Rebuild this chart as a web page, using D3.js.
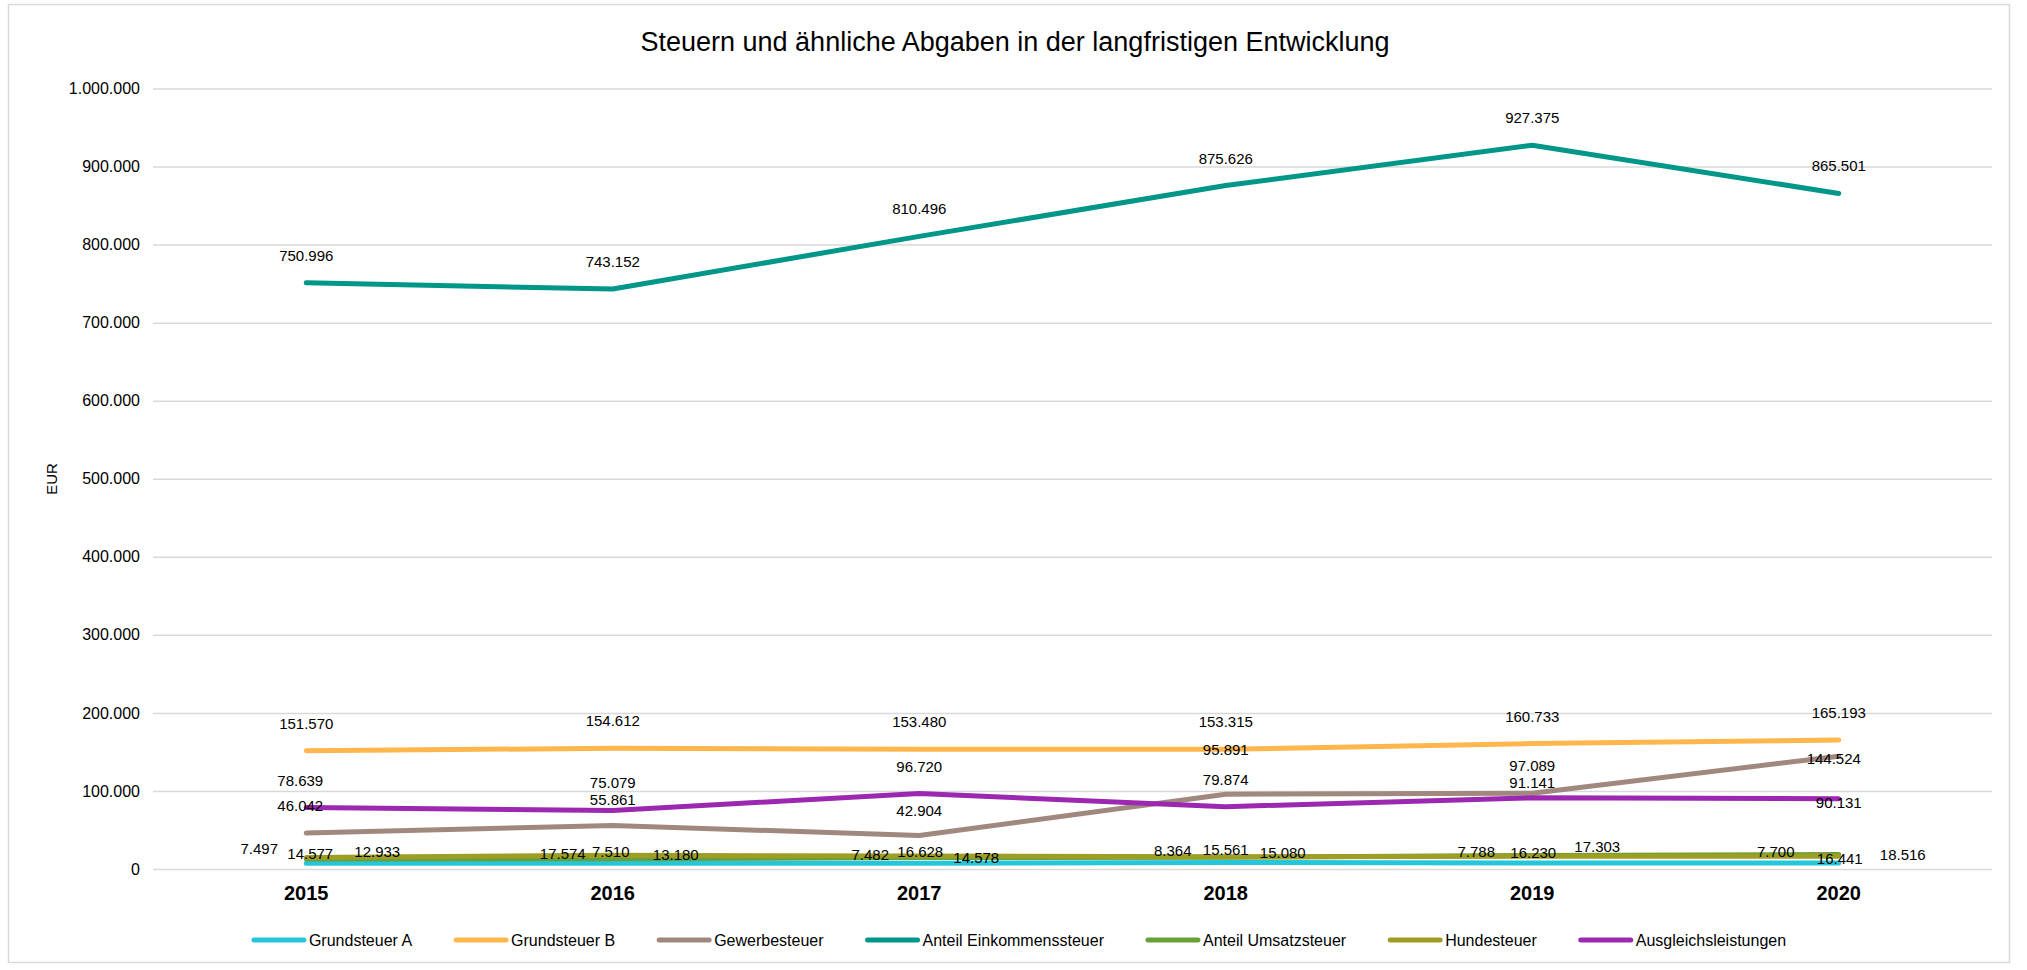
<!DOCTYPE html>
<html>
<head>
<meta charset="utf-8">
<script src="https://cdn.jsdelivr.net/npm/d3@7"></script>
<style>
  body { margin: 0; background: #fff; }
  svg { font-family: "Liberation Sans", Arial, sans-serif; }
</style>
</head>
<body>
<svg id="chart" width="2027" height="970"></svg>
<script>
// Werte aus dem Diagramm
var years = ['2015', '2016', '2017', '2018', '2019', '2020'];
var grundsteuerA = [7497, 7510, 7482, 8364, 7788, 7700];
var grundsteuerB = [151570, 154612, 153480, 153315, 160733, 165193];
var gewerbesteuer = [46042, 55861, 42904, 95891, 97089, 144524];
var einkommensteuer = [750996, 743152, 810496, 875626, 927375, 865501];
var umsatzsteuer = [12933, 13180, 14578, 15080, 17303, 18516];
var hundesteuer = [14577, 17574, 16628, 15561, 16230, 16441];
var ausgleich = [78639, 75079, 96720, 79874, 91141, 90131];
var yTicks = [0, 100000, 200000, 300000, 400000, 500000, 600000, 700000, 800000, 900000, 1000000];

var series = [
    {name: 'Grundsteuer A', values: grundsteuerA, color: '#26C6DA'},
    {name: 'Grundsteuer B', values: grundsteuerB, color: '#FFB74D'},
    {name: 'Gewerbesteuer', values: gewerbesteuer, color: '#A1887F'},
    {name: 'Anteil Einkommenssteuer', values: einkommensteuer, color: '#009688'},
    {name: 'Anteil Umsatzsteuer', values: umsatzsteuer, color: '#689F38'},
    {name: 'Hundesteuer', values: hundesteuer, color: '#9E9D24'},
    {name: 'Ausgleichsleistungen', values: ausgleich, color: '#9C27B0'}
];

// Verschiebung der Datenbeschriftungen (dx, dy zur Grundlinie)
var labelNudge = {
    'Grundsteuer A': [[-47, -9], [-2, -6], [-49, -3], [-53, -6], [-56, -6], [-63, -6]],
    'Gewerbesteuer': [[-6, -22], [0, -20], [0, -20], [0, -39], [0, -22], [-5, 8]],
    'Anteil Umsatzsteuer': [[71, -2], [63, 1], [57, 5], [57, 1], [65, -3], [64, 5]],
    'Hundesteuer': [[4, 1], [-50, 4], [1, 1], [0, -2], [1, 2], [1, 8]],
    'Ausgleichsleistungen': [[-6, -22], [0, -22], [0, -22], [0, -22], [0, -10], [0, 9]]
};

var de = d3.formatLocale({decimal: ',', thousands: '.', grouping: [3], currency: ['', ' €']});
var fmt = de.format(',.0f');

var svg = d3.select('#chart');

svg.append('rect')
    .attr('x', 8.5).attr('y', 4.5)
    .attr('width', 2001).attr('height', 958)
    .style('fill', '#fff')
    .style('stroke', '#d9d9d9')
    .style('stroke-width', 1.5);

var x = d3.scaleBand().domain(years).range([153, 1992]);
var y = d3.scaleLinear().domain([0, 1000000]).range([869, 88.5]);
var px = function(d) { return x(d) + x.bandwidth() / 2; };

// Titel
svg.append('text')
    .attr('x', 1015).attr('y', 51)
    .attr('text-anchor', 'middle')
    .style('font-size', '27px')
    .style('fill', '#000')
    .text('Steuern und ähnliche Abgaben in der langfristigen Entwicklung');

// Gitternetz + Achse
var yAxis = svg.append('g')
    .attr('transform', 'translate(153,0)')
    .call(d3.axisLeft(y).tickValues(yTicks).tickFormat(fmt).tickSize(-(1992 - 153)).tickPadding(13));
yAxis.select('.domain').remove();
yAxis.selectAll('line').style('stroke', '#d9d9d9').style('stroke-width', 1.5);
yAxis.selectAll('text').style('font-size', '16px').style('fill', '#000').style('font-family', '"Liberation Sans", Arial, sans-serif');

svg.append('text')
    .attr('transform', 'translate(57,479) rotate(-90)')
    .attr('text-anchor', 'middle')
    .style('font-size', '15px')
    .text('EUR');

var xAxis = svg.append('g')
    .attr('transform', 'translate(0,869)')
    .call(d3.axisBottom(x).tickSize(0).tickPadding(17));
xAxis.select('.domain').remove();
xAxis.selectAll('text')
    .style('font-size', '20px')
    .style('font-weight', 'bold')
    .style('fill', '#000')
    .style('font-family', '"Liberation Sans", Arial, sans-serif');

// Linien
var line = d3.line()
    .x(function(d, i) { return px(years[i]); })
    .y(function(d) { return y(d); });

series.forEach(function(s) {
    svg.append('path')
        .datum(s.values)
        .attr('d', line)
        .style('fill', 'none')
        .style('stroke', s.color)
        .style('stroke-width', 5)
        .style('stroke-linecap', 'round')
        .style('stroke-linejoin', 'round');
});

// Datenbeschriftungen
series.forEach(function(s) {
    var nudge = labelNudge[s.name];
    svg.append('g').selectAll('text')
        .data(s.values)
        .enter()
        .append('text')
        .attr('x', function(d, i) { return px(years[i]) + (nudge ? nudge[i][0] : 0); })
        .attr('y', function(d, i) { return y(d) + (nudge ? nudge[i][1] : -22); })
        .attr('text-anchor', 'middle')
        .style('font-size', '15px')
        .style('fill', '#000')
        .text(function(d) { return fmt(d); });
});

// Legende
var legend = svg.append('g').attr('transform', 'translate(0,940)');
var items = legend.selectAll('g')
    .data(series)
    .enter()
    .append('g');
items.append('line')
    .attr('x1', 0).attr('x2', 50)
    .style('stroke', function(d) { return d.color; })
    .style('stroke-width', 5)
    .style('stroke-linecap', 'round');
items.append('text')
    .attr('x', 55).attr('y', 6)
    .style('font-size', '16px')
    .style('fill', '#000')
    .text(function(d) { return d.name; });

var widths = [];
items.each(function() {
    widths.push(55 + d3.select(this).select('text').node().getComputedTextLength());
});
var gap = 44;
var total = d3.sum(widths) + gap * (widths.length - 1);
var offset = 1020 - total / 2;
items.attr('transform', function(d, i) {
    var pos = offset;
    offset += widths[i] + gap;
    return 'translate(' + pos + ',0)';
});
</script>
</body>
</html>
